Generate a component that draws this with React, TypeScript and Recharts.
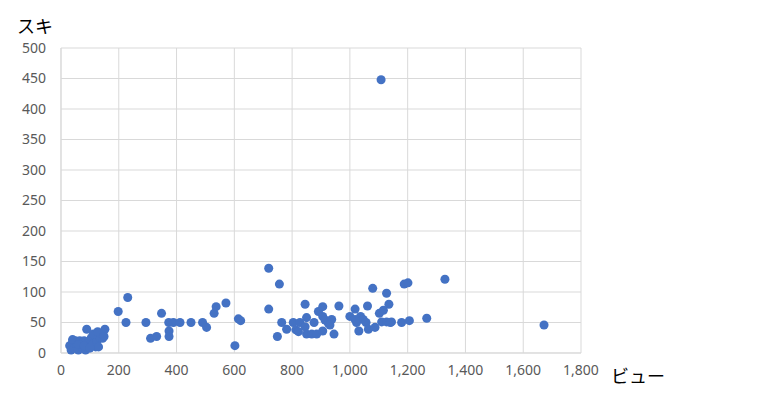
import { ScatterChart, Scatter, XAxis, YAxis, CartesianGrid, ZAxis } from "recharts";

// ビュー (views) and スキ (likes)
const views = [
  30, 35, 40, 45, 50, 55, 60, 65, 70, 75, 80, 85, 90, 95, 100, 105, 110, 115, 120, 125, 130, 40, 60, 80, 100, 135,
  89, 152, 144, 112, 127, 149, 198, 231, 225, 294, 310, 331, 348, 373, 374, 374, 389, 412, 450, 490, 504, 530, 537, 571,
  602, 614, 622,
  719, 756, 719, 749, 764, 781, 804, 813, 822, 827, 845, 850, 845, 850, 868, 876, 885, 891, 906, 906, 914, 906, 925, 937,
  931, 945, 962,
  1000, 1018, 1023, 1031, 1037, 1046, 1056, 1061, 1064, 1079, 1087, 1102, 1110, 1116, 1127, 1135, 1127, 1144, 1179, 1188,
  1201, 1206, 1108, 1329, 1266, 1672, 1140, 1018,
];
const likes = [
  12, 5, 18, 8, 20, 12, 5, 20, 15, 8, 20, 5, 15, 10, 20, 25, 15, 30, 10, 20, 10, 22, 14, 12, 8, 25,
  39, 39, 24, 31, 35, 27, 68, 91, 50, 50, 24, 27, 65, 50, 36, 27, 50, 50, 50, 50, 42, 65, 76, 82,
  12, 56, 53,
  139, 113, 72, 27, 50, 39, 50, 38, 35, 50, 80, 58, 43, 31, 31, 50, 31, 68, 76, 60, 54, 36, 49, 55,
  46, 31, 77,
  60, 72, 50, 36, 60, 55, 50, 77, 39, 106, 42, 65, 51, 70, 98, 80, 51, 51, 50, 113,
  115, 53, 448, 121, 57, 46, 50, 55,
];

const xTicks = [0, 200, 400, 600, 800, 1000, 1200, 1400, 1600, 1800];
const yTicks = [0, 50, 100, 150, 200, 250, 300, 350, 400, 450, 500];

const points = views.map((v, i) => ({ views: v, likes: likes[i] }));

const font = '"Noto Sans", "Noto Sans CJK JP", sans-serif';
const tick = { fill: "#595959", fontSize: 14, fontFamily: font };

export default function App() {
  return (
    <div style={{ position: "absolute", left: 0, top: 0, width: 776, height: 401, background: "#fff" }}>
      <ScatterChart width={776} height={401} margin={{ top: 48, right: 195, bottom: 18, left: 11 }}>
        <CartesianGrid stroke="#d9d9d9" horizontalValues={yTicks} verticalValues={xTicks} />
        <XAxis
          type="number"
          dataKey="views"
          domain={[0, 1800]}
          ticks={xTicks}
          interval={0}
          tickFormatter={(v) => v.toLocaleString("en-US")}
          tick={tick}
          tickLine={false}
          tickSize={0}
          tickMargin={12}
          axisLine={{ stroke: "#d9d9d9" }}
          height={30}
        />
        <YAxis
          type="number"
          dataKey="likes"
          domain={[0, 500]}
          ticks={yTicks}
          interval={0}
          tick={tick}
          tickLine={false}
          tickSize={0}
          tickMargin={15}
          axisLine={{ stroke: "#d9d9d9" }}
          width={50}
        />
        <ZAxis range={[70, 70]} />
        <Scatter data={points} fill="#4472c4" isAnimationActive={false} />
      </ScatterChart>
      <div style={{ position: "absolute", left: 17, top: 12, fontSize: 18, fontFamily: font, color: "#000" }}>スキ</div>
      <div style={{ position: "absolute", left: 611, top: 362, fontSize: 18, fontFamily: font, color: "#000" }}>ビュー</div>
    </div>
  );
}
